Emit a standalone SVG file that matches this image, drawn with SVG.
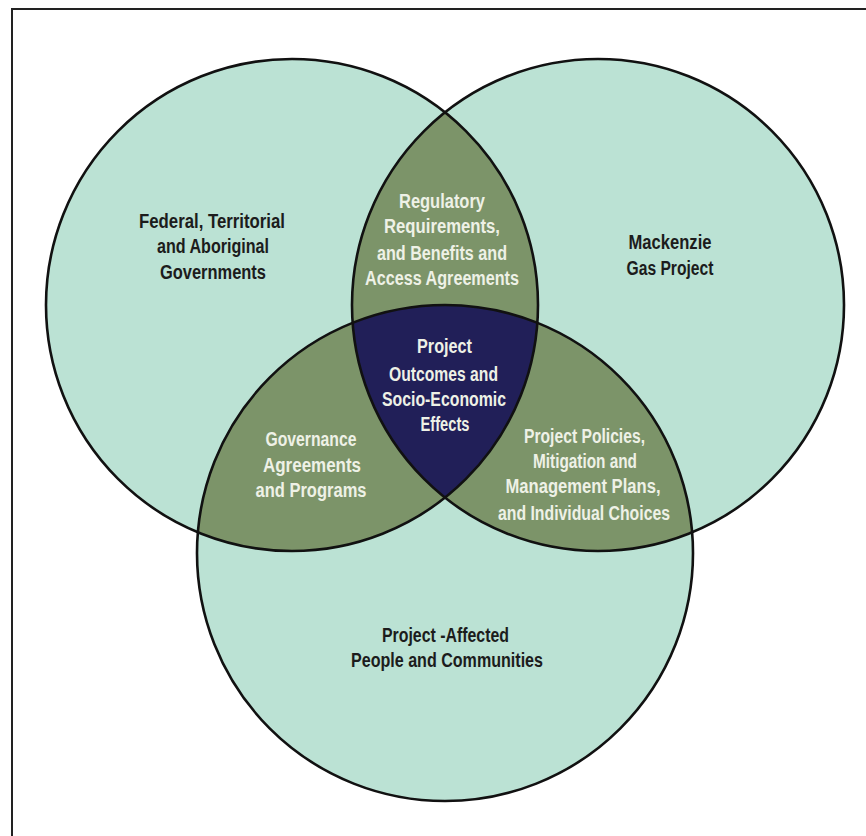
<svg xmlns="http://www.w3.org/2000/svg" width="866" height="836" viewBox="0 0 866 836">
<style>
.circ{fill:#bbe2d4;stroke:none}
.ring{fill:none;stroke:#111;stroke-width:2.6}
.olive{fill:#7c9469}
.navy{fill:#211f58}
text{font-family:"Liberation Sans",Arial,sans-serif;font-weight:bold;font-size:20px;text-anchor:middle}
.dk{fill:#1c1c1c}
.lt{fill:#eef1e6}
</style>
<rect x="12" y="9" width="870" height="840" fill="#fff" stroke="#222" stroke-width="2"/>
<g id="circle-governments">
<circle class="circ" cx="292" cy="305" r="246"/>
</g>
<g id="circle-mgp">
<circle class="circ" cx="598" cy="305" r="246"/>
</g>
<g id="circle-communities">
<circle class="circ" cx="445" cy="553" r="248"/>
</g>
<g id="region-regulatory">
<path class="olive" d="M445,112.36 A246,246 0 0,0 352.64,322.83 A248,248 0 0,1 537.36,322.83 A246,246 0 0,0 445,112.36 Z"/>
</g>
<g id="region-outcomes">
<path class="navy" d="M352.64,322.83 A248,248 0 0,1 537.36,322.83 A246,246 0 0,1 445,497.64 A246,246 0 0,1 352.64,322.83 Z"/>
</g>
<g id="region-governance">
<path class="olive" d="M352.64,322.83 A246,246 0 0,0 445,497.64 A246,246 0 0,1 197.86,532.27 A248,248 0 0,1 352.64,322.83 Z"/>
</g>
<g id="region-policies">
<path class="olive" d="M537.36,322.83 A248,248 0 0,1 692.14,532.27 A246,246 0 0,1 445,497.64 A246,246 0 0,0 537.36,322.83 Z"/>
</g>
<g id="connectors">
<circle class="ring" cx="292" cy="305" r="246"/>
<circle class="ring" cx="598" cy="305" r="246"/>
<circle class="ring" cx="445" cy="553" r="248"/>
</g>
<g id="labels">
<text class="dk" x="212" y="228" textLength="146" lengthAdjust="spacingAndGlyphs">Federal, Territorial</text>
<text class="dk" x="213" y="253" textLength="112" lengthAdjust="spacingAndGlyphs">and Aboriginal</text>
<text class="dk" x="213" y="279" textLength="106" lengthAdjust="spacingAndGlyphs">Governments</text>

<text class="dk" x="670" y="249" textLength="83" lengthAdjust="spacingAndGlyphs">Mackenzie</text>
<text class="dk" x="670" y="275" textLength="87" lengthAdjust="spacingAndGlyphs">Gas Project</text>

<text class="lt" x="442" y="208" textLength="86" lengthAdjust="spacingAndGlyphs">Regulatory</text>
<text class="lt" x="442" y="233" textLength="116" lengthAdjust="spacingAndGlyphs">Requirements,</text>
<text class="lt" x="442" y="260" textLength="130" lengthAdjust="spacingAndGlyphs">and  Benefits and</text>
<text class="lt" x="442" y="285" textLength="154" lengthAdjust="spacingAndGlyphs">Access Agreements</text>

<text class="lt" x="444.5" y="353" textLength="55" lengthAdjust="spacingAndGlyphs">Project</text>
<text class="lt" x="443.5" y="381" textLength="109" lengthAdjust="spacingAndGlyphs">Outcomes and</text>
<text class="lt" x="444" y="406" textLength="124" lengthAdjust="spacingAndGlyphs">Socio-Economic</text>
<text class="lt" x="445" y="431" textLength="49" lengthAdjust="spacingAndGlyphs">Effects</text>

<text class="lt" x="311" y="446" textLength="91" lengthAdjust="spacingAndGlyphs">Governance</text>
<text class="lt" x="312" y="472" textLength="98" lengthAdjust="spacingAndGlyphs">Agreements</text>
<text class="lt" x="311" y="497" textLength="111" lengthAdjust="spacingAndGlyphs">and Programs</text>

<text class="lt" x="584.5" y="443" textLength="121" lengthAdjust="spacingAndGlyphs">Project Policies,</text>
<text class="lt" x="585" y="468" textLength="104" lengthAdjust="spacingAndGlyphs">Mitigation and</text>
<text class="lt" x="583" y="493" textLength="155" lengthAdjust="spacingAndGlyphs">Management Plans,</text>
<text class="lt" x="584" y="520" textLength="172" lengthAdjust="spacingAndGlyphs">and  Individual Choices</text>

<text class="dk" x="445.5" y="642" textLength="127" lengthAdjust="spacingAndGlyphs">Project -Affected</text>
<text class="dk" x="447" y="667" textLength="192" lengthAdjust="spacingAndGlyphs">People and Communities</text>
</g>
</svg>
